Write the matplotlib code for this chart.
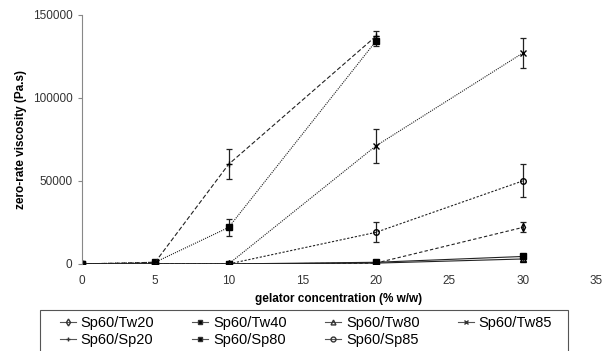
import matplotlib.pyplot as plt
from matplotlib.lines import Line2D
from matplotlib.patches import Rectangle
import numpy as np

plt.rcParams["font.family"] = ["Liberation Sans", "DejaVu Sans"]

conc = [0, 5, 10, 20, 30]
conc_short = [0, 5, 10, 20]

tw20 = [0, 0, 0, 500, 22000]
tw20_err = [0, 0, 0, 0, 3000]
tw40 = [0, 1000, 22000, 134000]
tw40_err = [0, 0, 5000, 3000]
tw80 = [0, 0, 0, 500, 3000]
tw80_err = [0, 0, 0, 0, 1000]
tw85 = [0, 0, 0, 71000, 127000]
tw85_err = [0, 0, 0, 10000, 9000]
sp20 = [0, 1000, 60000, 137000]
sp20_err = [0, 0, 9000, 3000]
sp80 = [0, 0, 0, 1000, 4500]
sp80_err = [0, 0, 0, 0, 1500]
sp85 = [0, 0, 0, 19000, 50000]
sp85_err = [0, 0, 0, 6000, 10000]

fig = plt.figure(figsize=(6.13, 3.51), dpi=100)
ax = fig.add_axes([0.133, 0.248, 0.84, 0.71])

series = [
    ("Sp60/Tw20", conc, tw20, tw20_err, "d", "none", (0, (3, 2))),
    ("Sp60/Tw40", conc_short, tw40, tw40_err, "s", "black", (0, (1, 1))),
    ("Sp60/Tw80", conc, tw80, tw80_err, "^", "none", "-"),
    ("Sp60/Tw85", conc, tw85, tw85_err, "x", "none", (0, (1, 1))),
    ("Sp60/Sp20", conc_short, sp20, sp20_err, "+", "none", (0, (4, 2))),
    ("Sp60/Sp80", conc, sp80, sp80_err, "s", "black", "-"),
    ("Sp60/Sp85", conc, sp85, sp85_err, "o", "none", (0, (2, 1.5))),
]

handles = []
for name, x, y, err, mk, fc, ls in series:
    ax.errorbar(x, y, yerr=err, color="#222222", marker=mk,
                markerfacecolor=fc, markeredgecolor="black", markersize=4,
                linestyle=ls, linewidth=0.8, elinewidth=0.9, capsize=2,
                capthick=0.9)
    handles.append(Line2D([], [], color="#555555", marker=mk, markersize=3.5,
                          markerfacecolor=fc, markeredgecolor="#333333",
                          linewidth=0.8, label=name))

ax.set_xlim(0, 35)
ax.set_ylim(0, 150000)
ax.set_xticks(np.arange(0, 36, 5))
ax.set_yticks([0, 50000, 100000, 150000])
ax.spines["top"].set_visible(False)
ax.spines["right"].set_visible(False)
ax.spines["bottom"].set_visible(False)
ax.spines["left"].set_color("#888888")
ax.tick_params(axis="x", length=0, pad=8, labelsize=8.5, labelcolor="#333333")
ax.tick_params(axis="y", length=3, color="#888888", labelsize=8.5, labelcolor="#333333")
ax.set_ylabel("zero-rate viscosity (Pa.s)", fontsize=8.5, fontweight="bold")
ax.set_xlabel("gelator concentration (% w/w)", fontsize=8.5, fontweight="bold", labelpad=4)
for lbl in ax.get_xticklabels() + ax.get_yticklabels():
    lbl.set_clip_on(False)

# row-major order for a 4-column legend
order = [0, 4, 1, 5, 2, 6, 3]
leg = fig.legend([handles[i] for i in order], [handles[i].get_label() for i in order],
                 loc="upper center", bbox_to_anchor=(0.499, 0.113), ncol=4,
                 fontsize=10.5, frameon=False,
                 handlelength=1.1, handletextpad=0.35, columnspacing=2.6,
                 labelspacing=0.2, borderpad=0.3, borderaxespad=0)

# legend box, running past the bottom edge as in the source
fig.patches.append(Rectangle((0.065, -0.05), 0.862, 0.167, transform=fig.transFigure,
                             fill=False, edgecolor="#555555", linewidth=0.8))

fig.savefig("out.png", dpi=100)
